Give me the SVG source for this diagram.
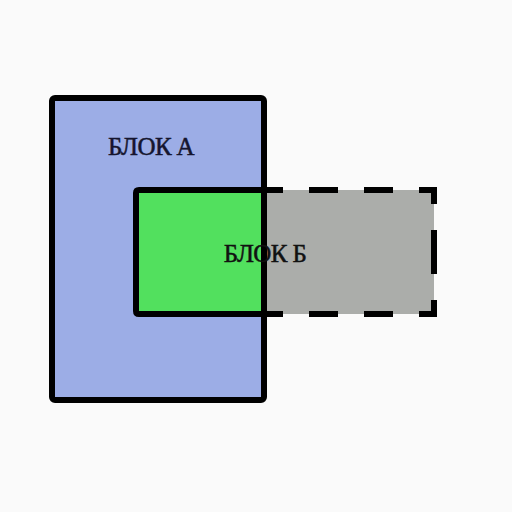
<svg xmlns="http://www.w3.org/2000/svg" width="512" height="512" viewBox="0 0 512 512">
  <style>
    .outline { fill: none; stroke: #000; stroke-width: 6; stroke-linejoin: round; }
    .dashed { fill: none; stroke: #000; stroke-width: 6; stroke-dasharray: 29 26; stroke-dashoffset: 10; }
    .label { font-family: "Liberation Serif", "Times New Roman", serif; font-size: 25px; letter-spacing: -0.6px; text-anchor: middle; stroke-width: 0.5; }
  </style>
  <rect x="0" y="0" width="512" height="512" fill="#fafafa"/>
  <g id="block-a">
    <rect x="52" y="98" width="212" height="302" rx="3" class="outline" style="fill:#9cade6"/>
    <text x="151" y="154.5" class="label" fill="#15152e" stroke="#15152e">БЛОК А</text>
  </g>
  <g id="block-b">
    <rect x="136" y="190" width="125" height="124" fill="#52e05e"/>
    <rect x="267" y="190" width="167" height="124" fill="#abadaa"/>
    <path d="M264,190 H139 Q136,190 136,193 V311 Q136,314 139,314 H264" class="outline"/>
    <path d="M264,190 H434 V252" class="dashed"/>
    <path d="M264,314 H434 V252" class="dashed"/>
    <text x="265" y="262" class="label" fill="#111" stroke="#111">БЛОК Б</text>
  </g>
</svg>
